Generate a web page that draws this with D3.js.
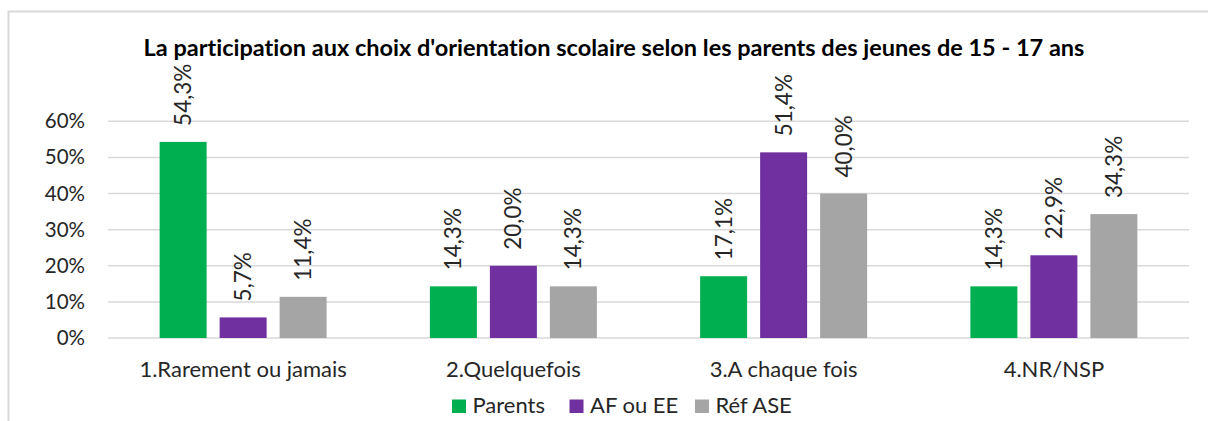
<!DOCTYPE html>
<html>
<head>
<meta charset="utf-8">
<script src="https://cdn.jsdelivr.net/npm/d3@7"></script>
<style>
  html, body { margin: 0; padding: 0; background: #fff; }
  svg { display: block; font-family: Lato, "Noto Sans", sans-serif; font-variant-ligatures: none; }
</style>
</head>
<body>
<svg id="chart" width="1208" height="421"></svg>
<script>
// Chart data
const title = "La participation aux choix d'orientation scolaire selon les parents des jeunes de 15 - 17 ans";
const categories = ["1.Rarement ou jamais", "2.Quelquefois", "3.A chaque fois", "4.NR/NSP"];
const seriesNames = ["Parents", "AF ou EE", "Réf ASE"];
const parents = [54.3, 14.3, 17.1, 14.3];
const afOuEe = [5.7, 20.0, 51.4, 22.9];
const refAse = [11.4, 14.3, 40.0, 34.3];
const yTicks = [0, 10, 20, 30, 40, 50, 60];
const seriesColors = ["#00B050", "#7030A0", "#A5A5A5"];

const seriesValues = [parents, afOuEe, refAse];
const fmt = v => v.toFixed(1).replace(".", ",") + "%";
const FONT = "Lato, 'Noto Sans', sans-serif";

const svg = d3.select("#chart");

// Outer chart frame (partly outside the window on the right and bottom)
svg.append("rect")
  .attr("x", 8.5).attr("y", 11.5)
  .attr("width", 1230).attr("height", 430)
  .attr("fill", "#fff")
  .attr("stroke", "#D9D9D9").attr("stroke-width", 2);

const plot = { left: 108, right: 1189, top: 121.3, bottom: 338 };

const x = d3.scaleBand().domain(categories).range([plot.left, plot.right]);
const xInner = d3.scaleBand().domain(seriesNames)
  .range([-90, 90]).paddingInner(13 / 60).paddingOuter(13 / 120);
const y = d3.scaleLinear().domain([0, 60]).range([plot.bottom, plot.top]);

// Title
svg.append("text")
  .attr("x", 614).attr("y", 56)
  .attr("text-anchor", "middle")
  .attr("font-weight", "bold")
  .attr("font-size", 23.5)
  .attr("fill", "#000")
  .text(title);

// Horizontal gridlines
svg.append("g")
  .selectAll("line")
  .data(yTicks)
  .join("line")
  .attr("x1", plot.left).attr("x2", plot.right)
  .attr("y1", d => y(d)).attr("y2", d => y(d))
  .attr("stroke", "#D9D9D9").attr("stroke-width", 1.5);

// Y axis labels
const yAxis = d3.axisLeft(y).tickValues(yTicks).tickFormat(d => d + "%").tickSize(0).tickPadding(0);
const yg = svg.append("g").attr("transform", `translate(${plot.left - 23},0)`).call(yAxis);
yg.select(".domain").remove();
yg.selectAll("text")
  .attr("font-family", FONT)
  .attr("font-size", 20.5)
  .attr("fill", "#262626");

// X axis category labels
const xAxis = d3.axisBottom(x).tickSize(0).tickPadding(0);
const xg = svg.append("g").attr("transform", `translate(0,${plot.bottom})`).call(xAxis);
xg.select(".domain").remove();
xg.selectAll("text")
  .attr("dy", null)
  .attr("y", 39)
  .attr("font-family", FONT)
  .attr("font-size", 22)
  .attr("fill", "#262626");

// Bars and value labels
const rows = [];
categories.forEach((c, i) => {
  seriesNames.forEach((s, j) => {
    rows.push({ cat: c, series: s, value: seriesValues[j][i], color: seriesColors[j] });
  });
});

const groups = svg.append("g");
groups.selectAll("rect")
  .data(rows)
  .join("rect")
  .attr("x", d => x(d.cat) + x.bandwidth() / 2 + xInner(d.series))
  .attr("y", d => y(d.value))
  .attr("width", xInner.bandwidth())
  .attr("height", d => y(0) - y(d.value))
  .attr("fill", d => d.color);

groups.selectAll("text")
  .data(rows)
  .join("text")
  .attr("transform", d => {
    const cx = x(d.cat) + x.bandwidth() / 2 + xInner(d.series) + xInner.bandwidth() / 2;
    const cy = y(d.value) - 16;
    return `translate(${cx},${cy}) rotate(-90)`;
  })
  .attr("dy", "0.35em")
  .attr("text-anchor", "start")
  .attr("font-size", 22.5)
  .attr("fill", "#262626")
  .text(d => fmt(d.value));

// Legend
const legendItems = [
  { name: seriesNames[0], color: seriesColors[0], x: 452 },
  { name: seriesNames[1], color: seriesColors[1], x: 569.5 },
  { name: seriesNames[2], color: seriesColors[2], x: 695 }
];
const lg = svg.append("g");
legendItems.forEach(it => {
  lg.append("rect")
    .attr("x", it.x).attr("y", 399.5)
    .attr("width", 14).attr("height", 13.5)
    .attr("fill", it.color);
  lg.append("text")
    .attr("x", it.x + 20.5).attr("y", 413)
    .attr("font-size", 22)
    .attr("fill", "#262626")
    .text(it.name);
});
</script>
</body>
</html>
